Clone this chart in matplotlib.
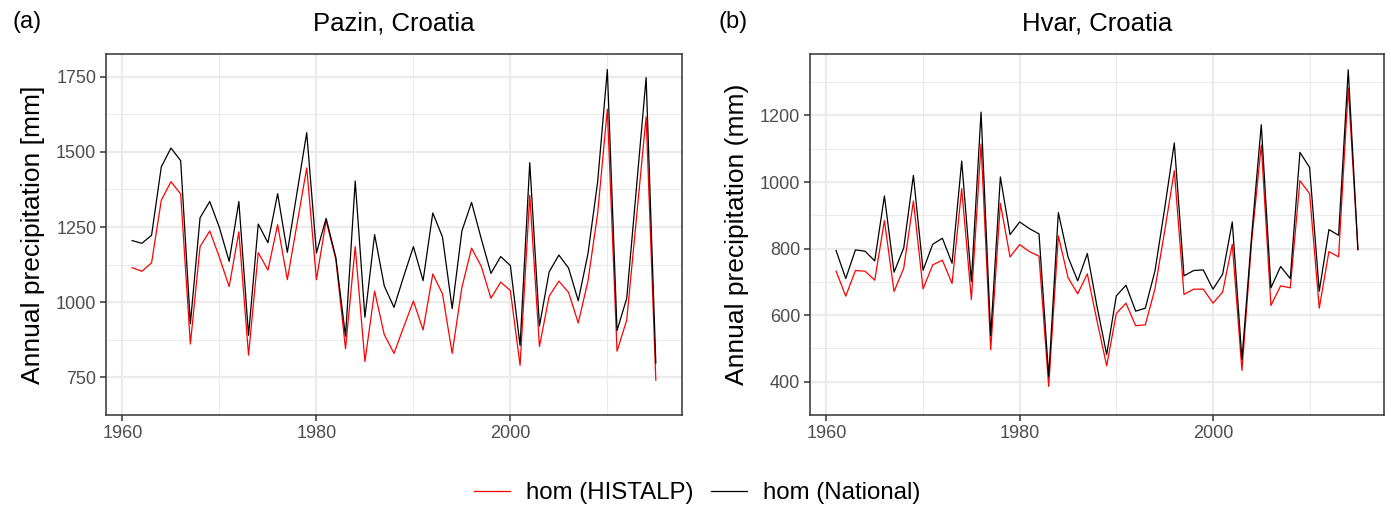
import matplotlib.pyplot as plt
import numpy as np

plt.rcParams['font.family'] = ['Liberation Sans', 'DejaVu Sans']

years = np.arange(1961, 2016)

# Pazin, Croatia
pazin_histalp = [1115, 1103, 1131, 1339, 1401, 1360, 861, 1185, 1237, 1149,
                 1052, 1234, 824, 1165, 1107, 1258, 1075, 1260, 1447, 1075,
                 1272, 1143, 845, 1185, 803, 1037, 892, 830, 918, 1004,
                 908, 1094, 1028, 830, 1049, 1180, 1119, 1013, 1067, 1039,
                 790, 1356, 853, 1020, 1070, 1033, 931, 1070, 1295, 1642,
                 837, 941, 1279, 1617, 741]
pazin_national = [1205, 1196, 1223, 1450, 1513, 1471, 929, 1281, 1335, 1248,
                  1136, 1335, 890, 1260, 1198, 1361, 1166, 1365, 1564, 1164,
                  1279, 1149, 887, 1403, 950, 1225, 1054, 983, 1086, 1185,
                  1072, 1297, 1217, 979, 1237, 1332, 1211, 1096, 1152, 1122,
                  856, 1464, 921, 1101, 1157, 1114, 1005, 1161, 1400, 1774,
                  906, 1013, 1380, 1747, 798]

# Hvar, Croatia
hvar_histalp = [732, 657, 734, 732, 705, 884, 671, 741, 943, 679,
                751, 765, 695, 980, 647, 1114, 496, 936, 775, 812,
                791, 777, 386, 838, 713, 664, 724, 583, 448, 605,
                636, 568, 571, 679, 852, 1034, 662, 678, 678, 636,
                669, 813, 434, 820, 1111, 629, 688, 682, 1004, 965,
                621, 791, 775, 1282, 797]
hvar_national = [794, 710, 796, 792, 763, 958, 729, 802, 1020, 735,
                 813, 831, 756, 1063, 701, 1210, 539, 1015, 842, 880,
                 860, 844, 416, 908, 775, 703, 785, 626, 482, 658,
                 690, 612, 621, 733, 920, 1117, 718, 734, 736, 678,
                 723, 880, 467, 838, 1172, 682, 746, 710, 1089, 1044,
                 672, 857, 840, 1337, 797]

W, H = 1391, 508
fig = plt.figure(figsize=(W / 100, H / 100), dpi=100)

panels = [
    ([106, 682], 12, 'Pazin, Croatia', '(a)', 'Annual precipitation [mm]',
     pazin_histalp, pazin_national, 250),
    ([810, 1384], 718, 'Hvar, Croatia', '(b)', 'Annual precipitation (mm)',
     hvar_histalp, hvar_national, 200),
]

grid_col = '#EBEBEB'
tick_col = '#4D4D4D'
top, bottom = 54, 415

for (x0, x1), tag_x, title, tag, ylabel, red, black, step in panels:
    ax = fig.add_axes([x0 / W, (H - bottom) / H, (x1 - x0) / W, (bottom - top) / H])
    ax.plot(years, red, color='#FF0000', lw=0.9, label='hom (HISTALP)')
    ax.plot(years, black, color='black', lw=0.9, label='hom (National)')

    # ggplot-style 5% expansion
    lo = min(min(red), min(black))
    hi = max(max(red), max(black))
    pad = 0.05 * (hi - lo)
    ax.set_ylim(lo - pad, hi + pad)
    ax.set_xlim(1961 - 0.05 * 54, 2015 + 0.05 * 54)

    start = np.ceil((lo - pad) / step) * step
    ax.set_yticks(np.arange(start, hi + pad, step))
    ax.set_yticks(np.arange(start - step / 2, hi + pad, step), minor=True)
    ax.set_xticks([1960, 1980, 2000])
    ax.set_xticks([1970, 1990, 2010], minor=True)

    ax.grid(which='major', color=grid_col, lw=1.6)
    ax.grid(which='minor', color=grid_col, lw=0.8)
    ax.set_axisbelow(True)
    ax.tick_params(which='major', length=4, width=1.1, color='#333333',
                   labelsize=13, labelcolor=tick_col, pad=3)
    ax.tick_params(which='minor', length=0)
    for s in ax.spines.values():
        s.set_color('#333333')
        s.set_linewidth(1.1)

    ax.set_ylabel(ylabel, fontsize=19, labelpad=8)
    ax.set_title(title, fontsize=18.5, pad=17)
    fig.text(tag_x / W, 1 - 22 / H, tag, fontsize=17, va='center', ha='left')

handles, labels = ax.get_legend_handles_labels()
fig.legend(handles, labels, loc='center', bbox_to_anchor=(697 / W, 1 - 493 / H),
           ncol=2, frameon=False, fontsize=17.3, handlelength=1.5,
           columnspacing=0.75, handletextpad=0.65)

fig.savefig('out.png', dpi=100)
